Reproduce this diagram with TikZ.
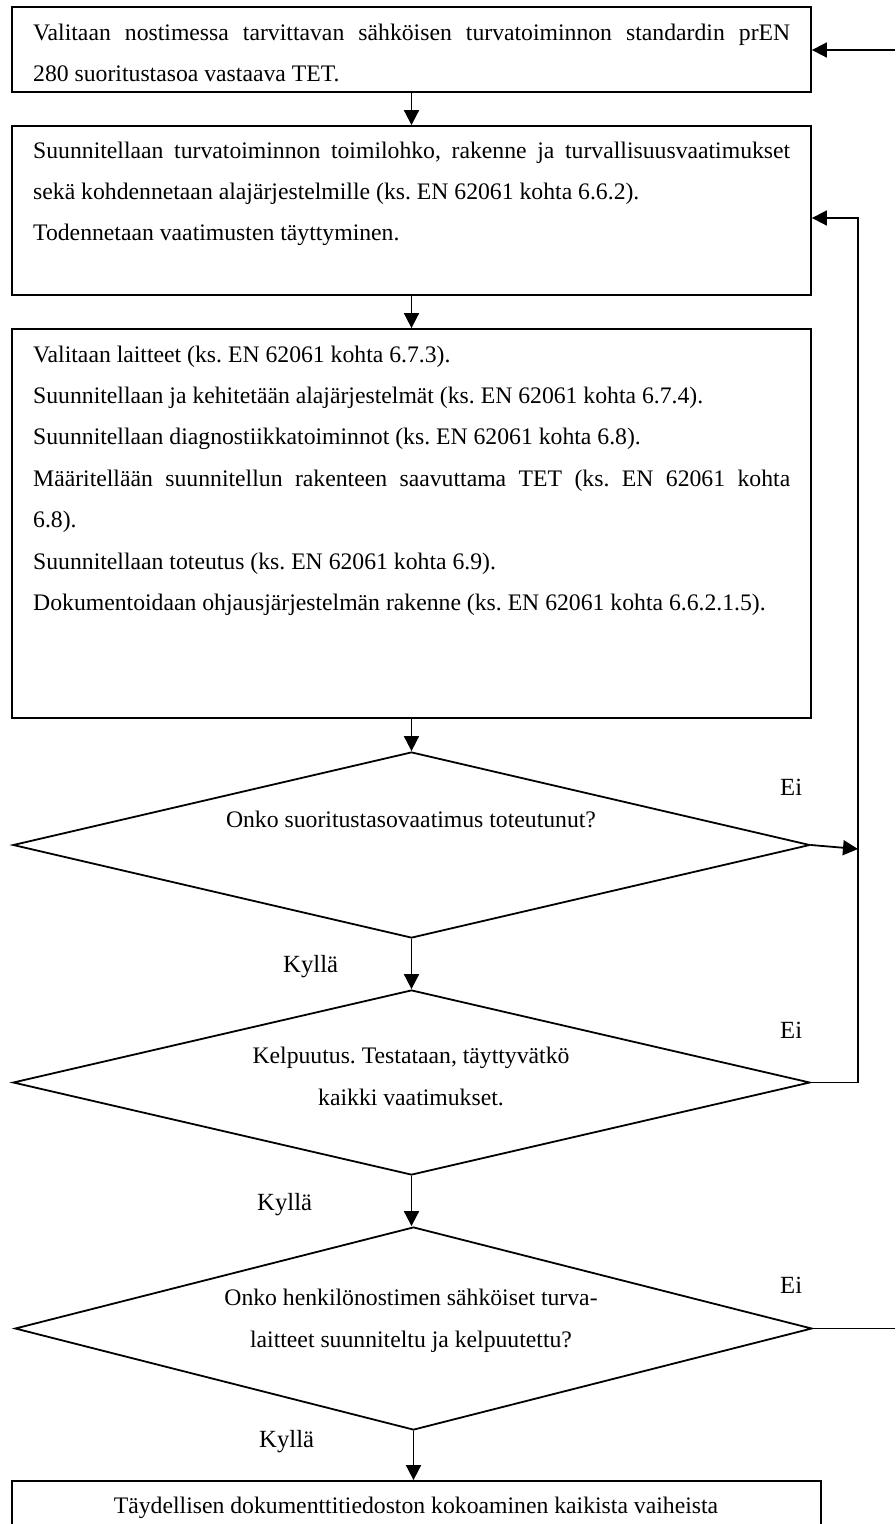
\documentclass[tikz,border=0pt]{standalone}
\usepackage{fontspec}
\setmainfont{Liberation Serif}
\usetikzlibrary{arrows.meta,shapes.geometric}
\newcommand{\fixsp}{\spaceskip=0pt\xspaceskip=0pt\frenchspacing}
\newcommand{\jline}[1]{\makebox[757pt][s]{\fixsp #1}}
\tikzset{
  boxshape/.style={draw, line width=1.8pt, rectangle, inner sep=0pt, minimum width=799pt},
  decshape/.style={draw, line width=1.8pt, diamond, inner sep=0pt, minimum width=797pt},
  boxtext/.style={anchor=north west, inner sep=0pt, text width=757pt, align=left,
                  font=\fontsize{23.7}{41.4}\selectfont, execute at begin node=\fixsp},
  dectext/.style={anchor=north, inner sep=0pt, align=center,
                  font=\fontsize{23.7}{42}\selectfont, execute at begin node=\fixsp},
  lbl/.style={anchor=base west, inner sep=0pt, font=\fontsize{24.7}{28}\selectfont},
  conn/.style={line width=1.8pt},
  arr/.style={line width=1.8pt, -{Triangle[length=15pt,width=15pt]}}
}
\begin{document}
\begin{tikzpicture}[x=1pt,y=-1pt]
\useasboundingbox (0,0) rectangle (895,1524);
% boxes
\node[boxshape, minimum height=85pt] (b1) at (411.5,49.5) {};
\node[boxshape, minimum height=169pt] (b2) at (411.5,210.5) {};
\node[boxshape, minimum height=389pt] (b3) at (411.5,523.5) {};
\node[boxshape, minimum width=809pt, minimum height=90pt] (b4) at (416.5,1526) {};
% diamonds
\node[decshape, minimum height=186pt] (d1) at (411.5,845) {};
\node[decshape, minimum height=185pt] (d2) at (411.5,1082.5) {};
\node[decshape, minimum height=203pt] (d3) at (413.5,1328.5) {};
% texts
\node[boxtext] (t1) at (33,11) {\strut\jline{Valitaan nostimessa tarvittavan sähköisen turvatoiminnon standardin prEN}\\280 suoritustasoa vastaava TET.};
\node[boxtext] (t2) at (33,129) {\strut\jline{Suunnitellaan turvatoiminnon toimilohko, rakenne ja turvallisuusvaatimukset}\\sekä kohdennetaan alajärjestelmille (ks. EN 62061 kohta 6.6.2).\\Todennetaan vaatimusten täyttyminen.};
\node[boxtext] (t3) at (33,333) {\strut Valitaan laitteet (ks. EN 62061 kohta 6.7.3).\\Suunnitellaan ja kehitetään alajärjestelmät (ks. EN 62061 kohta 6.7.4).\\Suunnitellaan diagnostiikkatoiminnot (ks. EN 62061 kohta 6.8).\\\jline{Määritellään suunnitellun rakenteen saavuttama TET (ks. EN 62061 kohta}\\6.8).\\Suunnitellaan toteutus (ks. EN 62061 kohta 6.9).\\Dokumentoidaan ohjausjärjestelmän rakenne (ks. EN 62061 kohta 6.6.2.1.5).};
\node[dectext] (t4) at (411,798) {\strut Onko suoritustasovaatimus toteutunut?};
\node[dectext] (t5) at (411,1034) {\strut Kelpuutus. Testataan, täyttyvätkö\\\strut kaikki vaatimukset.};
\node[dectext] (t6) at (411,1276) {\strut Onko henkilönostimen sähköiset turva-\\\strut laitteet suunniteltu ja kelpuutettu?};
\node[dectext] (t7) at (416,1484) {\strut Täydellisen dokumenttitiedoston kokoaminen kaikista vaiheista};
% labels
\node[lbl] (k1) at (283,972) {Kyllä};
\node[lbl] (k2) at (257,1210) {Kyllä};
\node[lbl] (k3) at (259,1447) {Kyllä};
\node[lbl] (e1) at (780,795) {Ei};
\node[lbl] (e2) at (780,1038) {Ei};
\node[lbl] (e3) at (780,1293) {Ei};
% main flow
\draw[arr] (b1.south) -- (b2.north);
\draw[arr] (b2.south) -- (b3.north);
\draw[arr] (b3.south) -- (d1.north);
\draw[arr] (d1.south) -- (d2.north);
\draw[arr] (d2.south) -- (d2.south |- d3.north);
\draw[arr] (d3.south) -- (d3.south |- b4.north);
% feedback lines
\coordinate (r1) at (858,849);
\coordinate (r2) at (858,1082.5);
\coordinate (r3) at (858,218);
\coordinate (r4) at (895,50);
\coordinate (r5) at (895,1328.5);
\draw[arr] (d1.east) -- (r1);
\draw[arr] (d2.east) -- (r2) -- (r3) -- (r3 -| b2.east);
\draw[arr] (r4) -- (r4 -| b1.east);
\draw[conn] (d3.east) -- (r5);
\end{tikzpicture}
\end{document}
